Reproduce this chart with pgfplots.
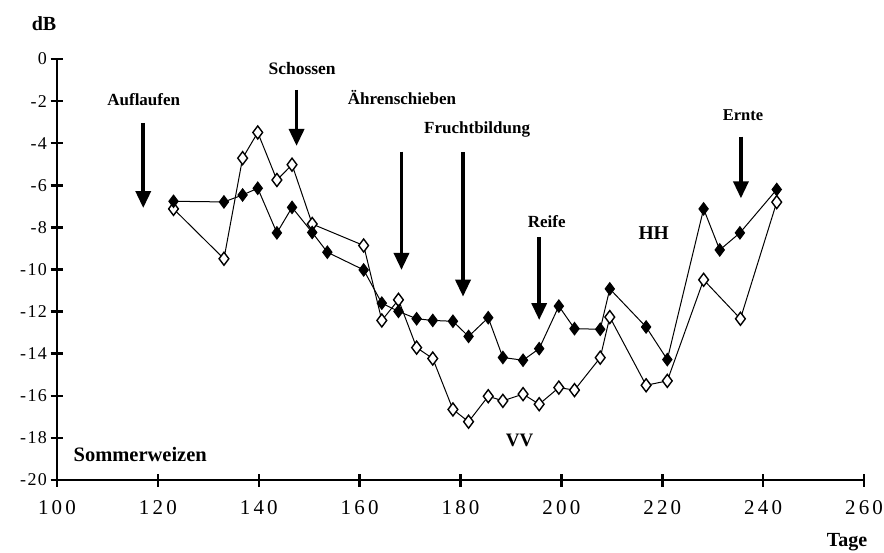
\documentclass[border=0pt]{standalone}
\usepackage{fontspec}
\setmainfont{Liberation Serif}
\usepackage{pgfplots}
\pgfplotsset{compat=1.18}
\usetikzlibrary{arrows.meta}

% radar backscatter of summer wheat, two polarisations
\pgfplotstableread{
x      y
123.1  -6.76
133.1  -6.79
136.8  -6.46
139.8  -6.14
143.6  -8.26
146.6  -7.05
150.6  -8.24
153.6  -9.18
160.8  -10.02
164.4  -11.60
167.7  -11.99
171.3  -12.34
174.5  -12.42
178.5  -12.46
181.6  -13.18
185.5  -12.29
188.4  -14.18
192.4  -14.31
195.6  -13.76
199.5  -11.74
202.6  -12.81
207.7  -12.84
209.6  -10.92
216.8  -12.73
221.0  -14.28
228.2  -7.12
231.4  -9.07
235.4  -8.26
242.7  -6.20
}\hh

\pgfplotstableread{
x      y
123.1  -7.12
133.1  -9.49
136.8  -4.71
139.8  -3.49
143.6  -5.75
146.6  -5.02
150.6  -7.84
160.8  -8.86
164.4  -12.42
167.7  -11.44
171.3  -13.71
174.5  -14.23
178.5  -16.65
181.6  -17.23
185.5  -16.02
188.4  -16.24
192.4  -15.92
195.6  -16.40
199.5  -15.61
202.6  -15.73
207.7  -14.19
209.6  -12.26
216.8  -15.50
221.0  -15.29
228.2  -10.49
235.5  -12.34
242.7  -6.80
}\vv

\newcommand\lbl[1]{\bfseries\fontsize{#1}{#1}\selectfont}

\begin{document}
\begin{tikzpicture}
\useasboundingbox (-57pt,-72pt) rectangle (827pt,480pt);
\begin{axis}[
  at={(0pt,0pt)}, anchor=south west,
  width=807pt, height=421pt, scale only axis,
  xmin=100, xmax=260, ymin=-20, ymax=0,
  axis x line*=bottom, axis y line*=left,
  axis line style={line width=2pt, black},
  xtick={100,120,...,260},
  xticklabels={100,120,140,160,180,200,220,240,260},
  ytick={-20,-18,...,0},
  yticklabels={-20,-18,-16,-14,-12,-10,-8,-6,-4,-2,0},
  tick align=center,
  major tick length=13pt,
  tick style={line width=2.5pt, black},
  xticklabel style={font=\fontsize{21}{21}\selectfont\addfontfeatures{LetterSpace=15}, yshift=-10pt},
  yticklabel style={font=\fontsize{18}{18}\selectfont\addfontfeatures{LetterSpace=8}, xshift=0pt},
  clip=false,
]
\addplot[black, line width=1pt, mark=diamond*, mark size=6.5pt,
  mark options={fill=white, draw=black, line width=1.4pt}] table[x=x, y=y] {\vv};
\addplot[black, line width=1pt, mark=diamond*, mark size=6.2pt,
  mark options={fill=black, draw=black, line width=1pt}] table[x=x, y=y] {\hh};

% growth stages
\begin{scope}[line width=3.5pt, -{Triangle[width=15pt,length=17pt]}]
\draw (axis cs:117.1,-3.04) -- (axis cs:117.1,-7.08);
\draw (axis cs:147.5,-1.47) -- (axis cs:147.5,-4.13);
\draw (axis cs:168.3,-4.40) -- (axis cs:168.3,-10.02);
\draw (axis cs:180.5,-4.42) -- (axis cs:180.5,-11.29);
\draw (axis cs:195.6,-8.46) -- (axis cs:195.6,-12.40);
\draw (axis cs:235.6,-3.69) -- (axis cs:235.6,-6.62);
\end{scope}

\node[font=\lbl{17}] at (axis cs:117.2,-1.95) {Auflaufen};
\node[font=\lbl{17.5}] at (axis cs:148.6,-0.43) {Schossen};
\node[font=\lbl{17}] at (axis cs:168.4,-1.85) {Ährenschieben};
\node[font=\lbl{17}] at (axis cs:183.3,-3.33) {Fruchtbildung};
\node[font=\lbl{17}] at (axis cs:197.1,-7.73) {Reife};
\node[font=\lbl{16.5}] at (axis cs:236.0,-2.66) {Ernte};
\node[font=\lbl{19.5}] at (axis cs:218.3,-8.25) {HH};
\node[font=\lbl{19}] at (axis cs:191.7,-18.1) {VV};
\node[font=\lbl{20.5}] at (axis cs:116.5,-18.8) {Sommerweizen};
\end{axis}
\node[font=\lbl{20}] at (-13pt,456.7pt) {dB};
\node[font=\lbl{20}] at (790pt,-61.7pt) {Tage};
\end{tikzpicture}
\end{document}
